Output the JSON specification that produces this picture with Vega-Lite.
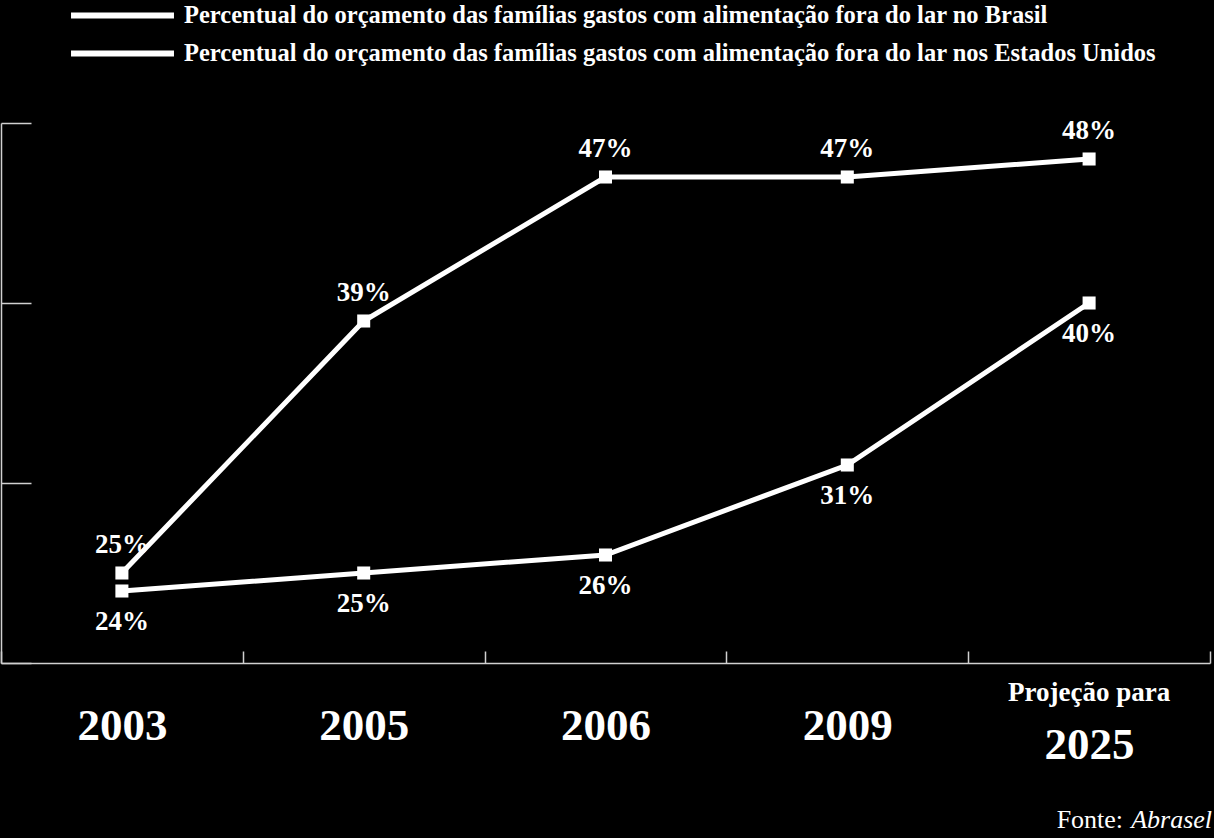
{
  "$schema": "https://vega.github.io/schema/vega-lite/v6.json",
  "width": 1209,
  "height": 540,
  "autosize": {"type": "none"},
  "padding": {"left": 1, "top": 123, "right": 4, "bottom": 175},
  "background": "black",
  "config": {"view": {"stroke": null}, "font": "Liberation Serif"},
  "data": {
    "values": [
      {"ano": "2003", "serie": "Brasil", "valor": 0.24},
      {"ano": "2005", "serie": "Brasil", "valor": 0.25},
      {"ano": "2006", "serie": "Brasil", "valor": 0.26},
      {"ano": "2009", "serie": "Brasil", "valor": 0.31},
      {"ano": "2025", "serie": "Brasil", "valor": 0.40},
      {"ano": "2003", "serie": "EUA", "valor": 0.25},
      {"ano": "2005", "serie": "EUA", "valor": 0.39},
      {"ano": "2006", "serie": "EUA", "valor": 0.47},
      {"ano": "2009", "serie": "EUA", "valor": 0.47},
      {"ano": "2025", "serie": "EUA", "valor": 0.48}
    ]
  },
  "encoding": {
    "x": {
      "field": "ano",
      "type": "ordinal",
      "sort": null,
      "scale": {"type": "band", "paddingInner": 0, "paddingOuter": 0},
      "axis": {
        "title": null,
        "labelAngle": 0,
        "domainColor": "#d0d0d0",
        "domainWidth": 1.5,
        "tickColor": "#d0d0d0",
        "tickWidth": 1.5,
        "tickSize": -12,
        "tickBand": "extent",
        "labelColor": "white",
        "labelFont": "Liberation Serif",
        "labelFontSize": 45,
        "labelFontWeight": "bold",
        "labelBaseline": "alphabetic",
        "labelPadding": {"condition": {"test": "datum.value == '2025'", "value": 107}, "value": 88}
      }
    },
    "y": {
      "field": "valor",
      "type": "quantitative",
      "scale": {"domain": [0.2, 0.5]},
      "axis": {
        "title": null,
        "labels": false,
        "grid": false,
        "values": [0.2, 0.3, 0.4, 0.5],
        "tickSize": -30,
        "tickColor": "#d0d0d0",
        "tickWidth": 1.5,
        "domainColor": "#d0d0d0",
        "domainWidth": 1.5
      }
    }
  },
  "layer": [
    {
      "mark": {"type": "line", "strokeWidth": 5, "strokeCap": "round"},
      "encoding": {
        "color": {
          "field": "serie",
          "type": "nominal",
          "sort": ["Brasil", "EUA"],
          "scale": {"range": ["white", "white"]},
          "legend": {
            "title": null,
            "orient": "none",
            "legendX": 108,
            "legendY": -121,
            "symbolType": "M-5,0L5,0",
            "symbolSize": 424,
            "symbolStrokeWidth": 6,
            "symbolStrokeColor": "white",
            "labelColor": "white",
            "labelFont": "Liberation Serif",
            "labelFontSize": 24.5,
            "labelFontWeight": "bold",
            "labelLimit": 1200,
            "labelOffset": 48,
            "rowPadding": 12,
            "labelExpr": "datum.value == 'Brasil' ? 'Percentual do orçamento das famílias gastos com alimentação fora do lar no Brasil' : 'Percentual do orçamento das famílias gastos com alimentação fora do lar nos Estados Unidos'"
          }
        }
      }
    },
    {
      "mark": {"type": "point", "shape": "square", "filled": true, "size": 170, "color": "white", "opacity": 1}
    },
    {
      "transform": [{"filter": "datum.serie == 'EUA'"}],
      "mark": {"type": "text", "color": "white", "fontSize": 27, "fontWeight": "bold", "font": "Liberation Serif", "baseline": "middle", "dy": -28},
      "encoding": {"text": {"field": "valor", "type": "quantitative", "format": ".0%"}}
    },
    {
      "transform": [{"filter": "datum.serie == 'Brasil'"}],
      "mark": {"type": "text", "color": "white", "fontSize": 27, "fontWeight": "bold", "font": "Liberation Serif", "baseline": "middle", "dy": 31},
      "encoding": {"text": {"field": "valor", "type": "quantitative", "format": ".0%"}}
    },
    {
      "transform": [{"filter": "datum.ano == '2025' && datum.serie == 'EUA'"}],
      "mark": {"type": "text", "color": "white", "fontSize": 27, "fontWeight": "bold", "font": "Liberation Serif", "baseline": "middle", "dy": 30, "text": "Projeção para"},
      "encoding": {"y": {"datum": 0.2}}
    },
    {
      "transform": [{"filter": "datum.ano == '2025' && datum.serie == 'EUA'"}],
      "mark": {"type": "text", "color": "white", "fontSize": 26, "font": "Liberation Serif", "align": "right", "baseline": "alphabetic", "dx": 34, "dy": 165, "text": "Fonte:"},
      "encoding": {"y": {"datum": 0.2}}
    },
    {
      "transform": [{"filter": "datum.ano == '2025' && datum.serie == 'EUA'"}],
      "mark": {"type": "text", "color": "white", "fontSize": 26, "fontStyle": "italic", "font": "Liberation Serif", "align": "right", "baseline": "alphabetic", "dx": 123, "dy": 165, "text": "Abrasel"},
      "encoding": {"y": {"datum": 0.2}}
    }
  ]
}
